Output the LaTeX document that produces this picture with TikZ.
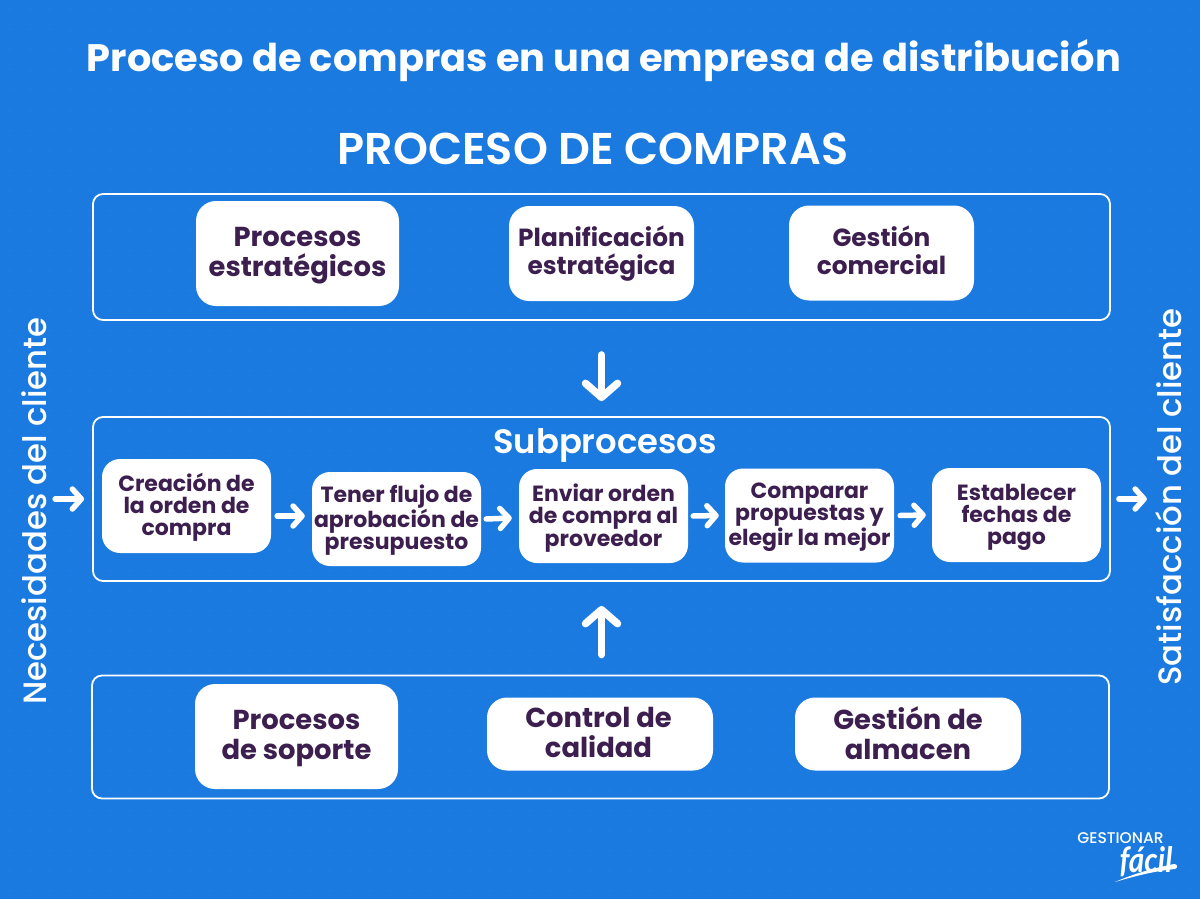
\documentclass[tikz,border=0pt]{standalone}
\usepackage{fontspec}
\setmainfont{Poppins}
\newfontfamily\pmed{Poppins Medium}
\newfontfamily\psemi{Poppins SemiBold}
\newfontfamily\logofont{Lato}
\usetikzlibrary{arrows.meta}
\definecolor{bgblue}{HTML}{1A7AE0}
\definecolor{ink}{HTML}{3D1F4F}
\newcommand{\cardnode}[7]{%
  \node[#1,minimum width=#4pt,minimum height=#5pt] (#2) at (#3) {};
  \node[#1,fill=none] (#2t) at ([shift={(#6)}]#2.center) {#7};}
\tikzset{
  frame/.style={draw=white,line width=1.8pt,rounded corners=10pt,fill=none},
  card/.style={fill=white,rounded corners=20pt,text=ink,font=\bfseries,align=center,inner sep=0pt},
  big/.style={card,font=\fontsize{27.4}{30}\selectfont\bfseries},
  mid/.style={card,font=\fontsize{24.8}{27.5}\selectfont\bfseries},
  small/.style={card,rounded corners=18pt,font=\fontsize{22}{22}\selectfont\bfseries},
  arr/.style={draw=white,line width=5.5pt,line cap=round,-{Straight Barb[round,length=9pt,width=20pt,line width=5.5pt]}},
  bigarr/.style={draw=white,line width=7.5pt,line cap=round,-{Straight Barb[round,length=14pt,width=32pt,line width=7.5pt]}},
  wtext/.style={text=white,inner sep=0pt},
}
\begin{document}
\begin{tikzpicture}[x=1pt,y=-1pt]
\useasboundingbox (0,0) rectangle (1200,899);
\fill[bgblue] (0,0) rectangle (1200,899);
\foreach \i in {0,...,59}{\foreach \j in {0,...,44}{
  \fill[white,opacity=.05] (10+\i*20,10+\j*20) circle (1pt);}}
\node[wtext,font=\fontsize{38.3}{42}\selectfont\bfseries] (title) at (604,61) {Proceso de compras en una empresa de distribución};
\node[wtext,font=\fontsize{44.5}{50}\selectfont\psemi] (head) at (593,149) {PROCESO DE COMPRAS};
\node[frame,minimum width=1017pt,minimum height=126pt] (top) at (601.5,257) {};
\node[frame,minimum width=1017pt,minimum height=164pt] (midf) at (601.5,499) {};
\node[frame,minimum width=1017pt,minimum height=123pt] (bot) at (600.5,737) {};
\cardnode{big}{a1}{297.5,253.5}{203}{105}{0,2}{Procesos\\estratégicos}
\cardnode{mid}{a2}{601.5,253.5}{185}{95}{0,0}{Planificación\\estratégica}
\cardnode{mid}{a3}{881.5,253}{185}{95}{0,-2.5}{Gestión\\comercial}
\node[wtext,font=\fontsize{33.8}{36}\selectfont\psemi] (sub) at (605,445) {Subprocesos};
\cardnode{small}{c1}{186.5,506}{169}{94}{0,1.5}{Creación de\\la orden de\\compra}
\cardnode{small}{c2}{396.5,519}{169}{94}{0,1}{Tener flujo de\\aprobación de\\presupuesto}
\cardnode{small}{c3}{603.5,516}{169}{94}{0,2}{Enviar orden\\de compra al\\proveedor}
\cardnode{small}{c4}{809.5,515.5}{169}{94}{0,1.5}{Comparar\\propuestas y\\elegir la mejor}
\cardnode{small}{c5}{1016.5,515}{169}{94}{0,2}{Establecer\\fechas de\\pago}
\cardnode{big}{b1}{296.5,736.5}{203}{105}{0,2}{Procesos\\de soporte}
\cardnode{big}{b2}{600,734}{226}{73}{-1.5,-1.5}{Control de\\calidad}
\cardnode{big}{b3}{908,734}{226}{73}{0,-1}{Gestión de\\almacen}
\node[wtext,rotate=90,font=\fontsize{32.3}{36}\selectfont\pmed] (need) at (34,511) {Necesidades del cliente};
\node[wtext,rotate=90,font=\fontsize{32.3}{36}\selectfont\pmed] (sat) at (1169,497) {Satisfacción del cliente};
% connectors
\draw[bigarr] ([yshift=-34pt]top.south -| a2.south) -- ([yshift=15pt]midf.north -| a2.south);
\draw[bigarr] ([yshift=20pt]bot.north -| a2.south) -- ([yshift=-24pt]midf.south -| a2.south);
\draw[arr] ([shift={(-37,0)}]midf.west) -- ([shift={(-8,0)}]midf.west);
\draw[arr] ([shift={(8,0)}]midf.east) -- ([shift={(36,0)}]midf.east);
\draw[arr] ([shift={(6,10)}]c1.east) -- ([shift={(-7,-3)}]c2.west);
\draw[arr] ([shift={(5,0)}]c2.east) -- ([shift={(-7,2)}]c3.west);
\draw[arr] ([shift={(5,0)}]c3.east) -- ([shift={(-6,0)}]c4.west);
\draw[arr] ([shift={(6,0)}]c4.east) -- ([shift={(-6,0)}]c5.west);
% logo
\node[wtext,font=\fontsize{15.5}{16}\selectfont\pmed] (logo1) at (1120.5,838) {GESTIONAR};
\node[wtext,xscale=.85,font=\fontsize{35}{38}\logofont\bfseries\itshape] (logo2) at (1146,862) {fácil};
\fill[white] (1115,882) .. controls (1135,873) and (1155,868) .. (1174,864) .. controls (1178,864) and (1178,868) .. (1175,869) .. controls (1155,871) and (1135,876) .. (1115,882) -- cycle;
\end{tikzpicture}
\end{document}
